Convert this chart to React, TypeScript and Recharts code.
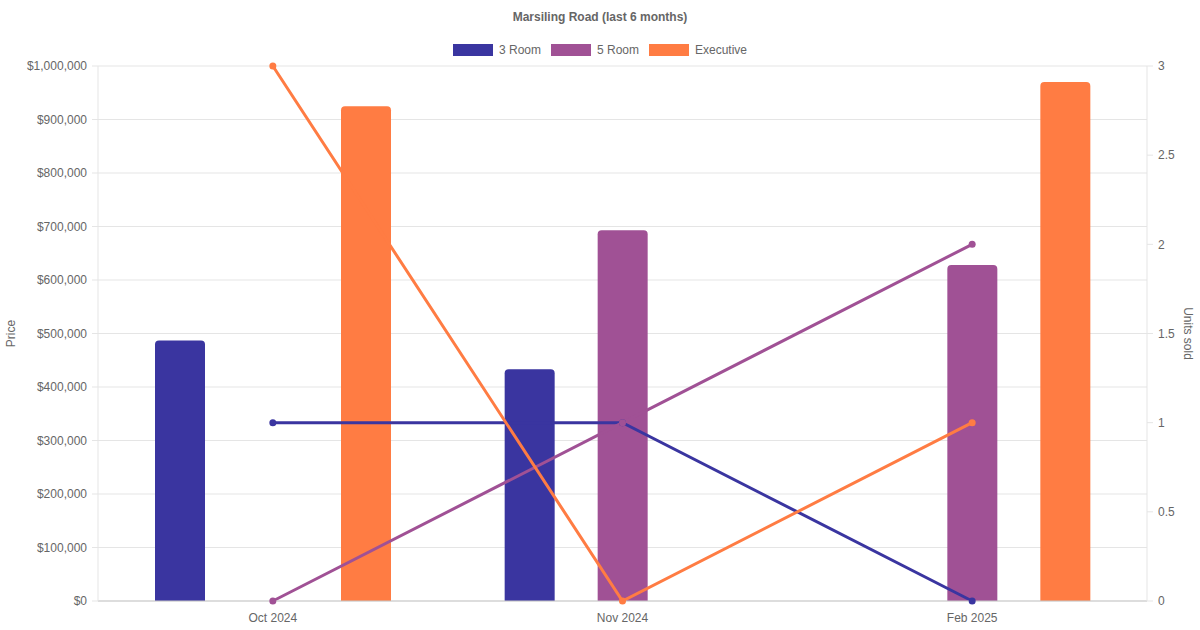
import React from "react";
import {
  ComposedChart,
  Bar,
  Line,
  XAxis,
  YAxis,
  CartesianGrid,
  Label,
} from "recharts";

const MONTHS = ["Oct 2024", "Nov 2024", "Feb 2025"];

// average resale price per flat type
const PRICE_3_ROOM = [487000, 433000, null];
const PRICE_5_ROOM = [null, 693000, 628000];
const PRICE_EXEC = [925000, null, 970000];

// number of units sold per flat type
const UNITS_3_ROOM = [1, 1, 0];
const UNITS_5_ROOM = [0, 1, 2];
const UNITS_EXEC = [3, 0, 1];

const PRICE_TICKS = [0, 100000, 200000, 300000, 400000, 500000, 600000, 700000, 800000, 900000, 1000000];
const UNIT_TICKS = [0, 0.5, 1, 1.5, 2, 2.5, 3];

const SERIES = [
  { key: "room3", name: "3 Room", color: "#3a35a0" },
  { key: "room5", name: "5 Room", color: "#a05195" },
  { key: "exec", name: "Executive", color: "#ff7c43" },
];

const chartData = MONTHS.map((month, i) => ({
  month,
  room3Price: PRICE_3_ROOM[i],
  room5Price: PRICE_5_ROOM[i],
  execPrice: PRICE_EXEC[i],
  room3Units: UNITS_3_ROOM[i],
  room5Units: UNITS_5_ROOM[i],
  execUnits: UNITS_EXEC[i],
}));

const FONT = '"Liberation Sans", Arial, Helvetica, sans-serif';
const TEXT = "#666";
const GRID = "#e5e5e5";

const tick = { fill: TEXT, fontSize: 12, fontFamily: FONT };

const money = (v: number) => `$${v.toLocaleString("en-US")}`;

function PriceTitle(props: any) {
  const { viewBox } = props;
  const cx = viewBox.x + 11;
  const cy = viewBox.y + viewBox.height / 2;
  return (
    <text
      x={cx}
      y={cy}
      transform={`rotate(-90 ${cx} ${cy})`}
      textAnchor="middle"
      dominantBaseline="central"
      fill={TEXT}
      fontSize={12}
      fontFamily={FONT}
    >
      Price
    </text>
  );
}

function UnitsTitle(props: any) {
  const { viewBox } = props;
  const cx = viewBox.x + viewBox.width - 12;
  const cy = viewBox.y + viewBox.height / 2;
  return (
    <text
      x={cx}
      y={cy}
      transform={`rotate(90 ${cx} ${cy})`}
      textAnchor="middle"
      dominantBaseline="central"
      fill={TEXT}
      fontSize={12}
      fontFamily={FONT}
    >
      Units sold
    </text>
  );
}

function Header() {
  return (
    <div
      style={{
        position: "absolute",
        left: 0,
        top: 0,
        width: 1200,
        fontFamily: FONT,
        color: TEXT,
        fontSize: 12,
        textAlign: "center",
        pointerEvents: "none",
      }}
    >
      <div style={{ fontWeight: "bold", marginTop: 10, lineHeight: "14px" }}>
        Marsiling Road (last 6 months)
      </div>
      <div
        style={{
          display: "flex",
          justifyContent: "center",
          alignItems: "center",
          marginTop: 19,
          gap: 10,
        }}
      >
        {SERIES.map((s) => (
          <div key={s.key} style={{ display: "flex", alignItems: "center" }}>
            <span
              style={{
                display: "inline-block",
                width: 38,
                height: 10,
                background: s.color,
                border: `1px solid ${s.color}`,
                marginRight: 6,
              }}
            />
            <span style={{ lineHeight: "14px" }}>{s.name}</span>
          </div>
        ))}
      </div>
    </div>
  );
}

export default function App() {
  return (
    <div
      style={{
        position: "absolute",
        left: 0,
        top: 0,
        width: 1200,
        height: 630,
        background: "#fff",
      }}
    >
      <ComposedChart
        width={1200}
        height={630}
        data={chartData}
        margin={{ top: 66, right: 0, bottom: 0, left: 0 }}
        barSize={50}
        barGap={43}
      >
        <CartesianGrid yAxisId="price" vertical={false} stroke={GRID} />
        <XAxis
          dataKey="month"
          tick={tick}
          tickLine={false}
          tickSize={6}
          tickMargin={6}
          height={29}
          axisLine={{ stroke: "#c8c8c8" }}
        />
        <YAxis
          yAxisId="price"
          orientation="left"
          width={98}
          domain={[0, 1000000]}
          ticks={PRICE_TICKS}
          tickFormatter={money}
          tick={tick}
          tickLine={{ stroke: GRID }}
          tickSize={6}
          tickMargin={5}
          axisLine={{ stroke: GRID }}
          interval={0}
        >
          <Label content={PriceTitle} />
        </YAxis>
        <YAxis
          yAxisId="units"
          orientation="right"
          width={53}
          domain={[0, 3]}
          ticks={UNIT_TICKS}
          tick={tick}
          tickLine={{ stroke: GRID }}
          tickSize={6}
          tickMargin={5}
          axisLine={{ stroke: GRID }}
          interval={0}
        >
          <Label content={UnitsTitle} />
        </YAxis>

        {SERIES.map((s) => (
          <Bar
            key={`${s.key}-bar`}
            yAxisId="price"
            dataKey={`${s.key}Price`}
            name={s.name}
            fill={s.color}
            radius={[4, 4, 0, 0]}
            isAnimationActive={false}
          />
        ))}
        {SERIES.map((s) => (
          <Line
            key={`${s.key}-line`}
            yAxisId="units"
            type="linear"
            dataKey={`${s.key}Units`}
            name={s.name}
            stroke={s.color}
            strokeWidth={3}
            dot={{ r: 3.5, fill: s.color, stroke: s.color, strokeWidth: 0 }}
            activeDot={false}
            isAnimationActive={false}
          />
        ))}
      </ComposedChart>
      <Header />
    </div>
  );
}
